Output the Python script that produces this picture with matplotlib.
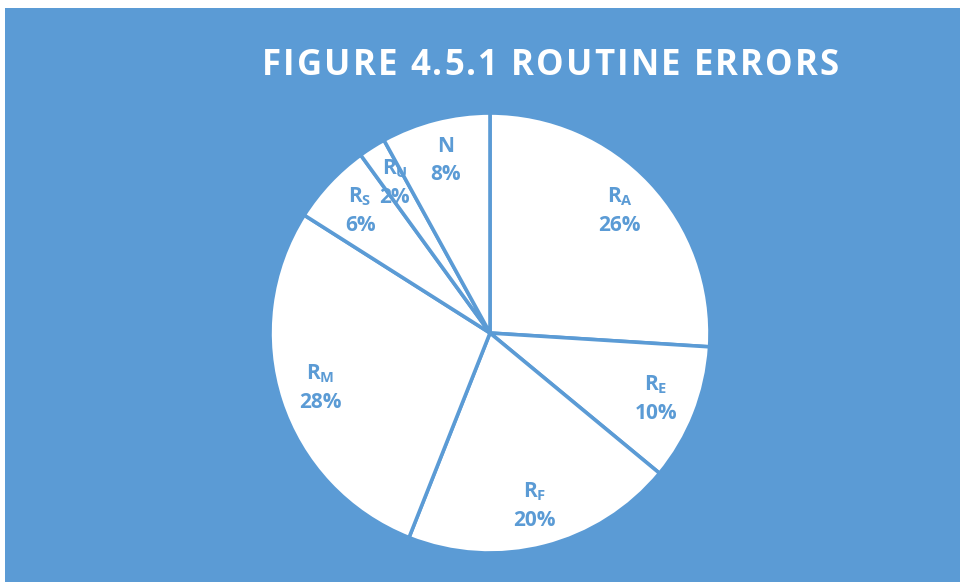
import numpy as np
import matplotlib
matplotlib.use('Agg')
import matplotlib.pyplot as plt

# 数据
labels = ['R$_\\mathregular{A}$', 'R$_\\mathregular{E}$', 'R$_\\mathregular{F}$',
          'R$_\\mathregular{M}$', 'R$_\\mathregular{S}$', 'R$_\\mathregular{U}$', 'N']
shares = [26, 10, 20, 28, 6, 2, 8]
title = 'FIGURE 4.5.1 ROUTINE ERRORS'

BLUE = '#5B9BD5'

plt.rcParams['font.family'] = ['Open Sans', 'DejaVu Sans']
plt.rcParams['mathtext.fontset'] = 'custom'
plt.rcParams['mathtext.rm'] = 'Open Sans:bold'
plt.rcParams['mathtext.it'] = 'Open Sans:bold'
plt.rcParams['mathtext.bf'] = 'Open Sans:bold'

fig = plt.figure(figsize=(9.6, 5.82), dpi=100)
fig.patch.set_facecolor('white')

# 蓝色背景（左、上留白边）
bg = fig.add_axes([5 / 960, 0, 955 / 960, 574 / 582])
bg.set_facecolor(BLUE)
bg.set_xticks([])
bg.set_yticks([])
for sp in bg.spines.values():
    sp.set_visible(False)

ax = fig.add_axes([0.28125, 0.0498, 440 / 960, 440 / 582])
ax.set_facecolor('none')
wedges, _ = ax.pie(shares, startangle=90, counterclock=False,
                   colors=['white'] * len(shares),
                   wedgeprops=dict(edgecolor=BLUE, linewidth=2.6))
ax.set_xlim(-1, 1)
ax.set_ylim(-1, 1)
ax.set_aspect('equal')
ax.axis('off')

# 标签：名称 + 百分比
for w, lab, s in zip(wedges, labels, shares):
    ang = np.deg2rad((w.theta1 + w.theta2) / 2)
    r = 0.81
    ax.text(r * np.cos(ang), r * np.sin(ang), f'{lab}\n{s}%',
            ha='center', va='center', color=BLUE, fontsize=15,
            fontweight='bold', linespacing=1.45)

# 标题：逐字放置以加大字距
renderer = fig.canvas.get_renderer()
x = 262
y = 582 - 66
extra = 2.1
for ch in title:
    t = fig.text(x / 960, y / 582, ch, ha='left', va='center', color='white',
                 fontsize=25, fontweight='bold')
    wpx = t.get_window_extent(renderer).width if ch != ' ' else 9
    x += wpx + extra

plt.savefig('out.png', dpi=100, facecolor=fig.get_facecolor())
plt.close()
